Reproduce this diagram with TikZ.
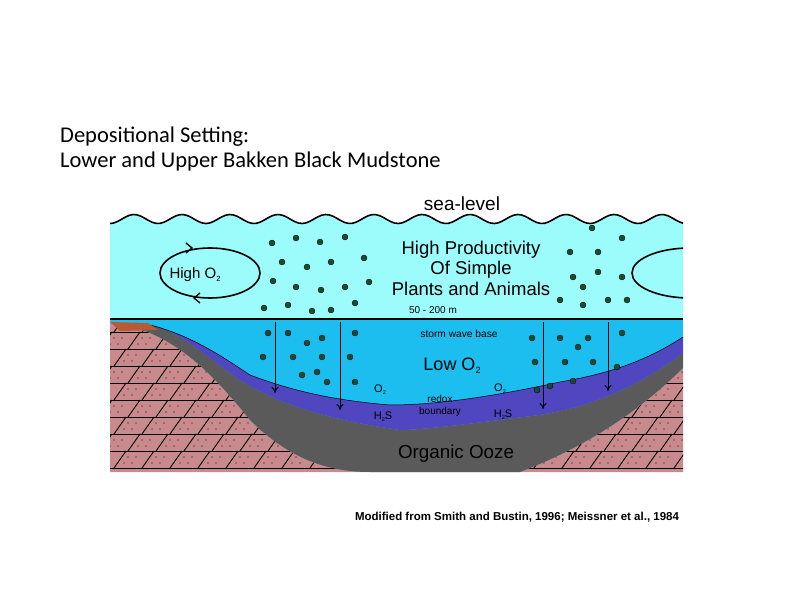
\documentclass[tikz,border=0pt]{standalone}
\usepackage{fontspec}
\usetikzlibrary{arrows.meta}
\setmainfont{Liberation Sans}
\newfontfamily\titlefont{Carlito}
\newcommand\mysub[1]{\raisebox{-0.3ex}{\scalebox{0.5}{#1}}}
\begin{document}
\begin{tikzpicture}[x=1pt,y=-1pt,
  dot/.style={fill=dotgreen,draw=black,line width=0.3pt},
  sink/.style={-{To[length=6pt,width=7pt]},line width=0.8pt},
  lbl/.style={inner sep=0pt,font=\fontsize{#1}{#1}\selectfont},
  lbl/.default=9]
\definecolor{lightsea}{HTML}{9CFCFC}
\definecolor{deepsea}{HTML}{1CBEF0}
\definecolor{purp}{HTML}{5046C0}
\definecolor{ooze}{HTML}{5A5A5A}
\definecolor{rock}{HTML}{C88A8C}
\definecolor{brownlens}{HTML}{B85A34}
\definecolor{dotgreen}{HTML}{1E4A30}
\useasboundingbox (0,0) rectangle (792,612);
% upper water
\fill[lightsea] plot[domain=110:683,samples=150,smooth] (\x,{219+4.5*cos(7.5*(\x-110))}) -- (683,319) -- (110,319) -- cycle;
\draw[line width=1.6pt] plot[domain=110:683,samples=150,smooth] (\x,{219+4.5*cos(7.5*(\x-110))});
% lower water
\fill[deepsea] (110,319) rectangle (683,472);
% rock
\begin{scope}
\path[clip] (110,322) .. controls (170,330) and (210,370) .. (250,420) .. controls (290,460) and (330,472) .. (370,472) -- (520,472) .. controls (590,445) and (640,410) .. (683,368) -- (683,472) -- (110,472) -- cycle;
\fill[rock] (100,300) rectangle (690,480);
\foreach \y [count=\k] in {332,349,...,472}{
  \draw[line width=0.9pt] (100,\y) -- (690,\y);
  \pgfmathsetmacro{\off}{mod(\k,2)*14}
  \foreach \x in {100,128,...,700}{
    \draw[line width=0.9pt] ({\x+\off},\y) -- ({\x+\off+12},\y-17);
    \fill ({\x+\off+10},\y-5) circle (0.7) ({\x+\off+18},\y-5) circle (0.7)
          ({\x+\off+14},\y-11) circle (0.7) ({\x+\off+22},\y-11) circle (0.7);
  }
}
\end{scope}
% ooze
\fill[ooze] (110,322) .. controls (170,330) and (210,370) .. (250,420) .. controls (290,460) and (330,472) .. (370,472) -- (520,472) .. controls (590,445) and (640,410) .. (683,368)
 -- (683,353) .. controls (640,385) and (590,410) .. (523,417) .. controls (460,425) and (420,430) .. (400,430) .. controls (330,420) and (280,405) .. (240,380) .. controls (210,360) and (180,330) .. (150,325) -- cycle;
% purple
\fill[purp] (150,325) .. controls (180,330) and (210,360) .. (240,380) .. controls (280,405) and (330,420) .. (400,430) .. controls (420,430) and (460,425) .. (523,417) .. controls (590,410) and (640,385) .. (683,353)
 -- (683,337) .. controls (640,365) and (600,375) .. (560,382) .. controls (500,395) and (440,405) .. (390,405) .. controls (330,400) and (290,390) .. (250,375) .. controls (220,355) and (190,335) .. (150,325) -- cycle;
\draw[line width=0.5pt] (150,325) .. controls (190,335) and (220,355) .. (250,375) .. controls (290,390) and (330,400) .. (390,405) .. controls (440,405) and (500,395) .. (560,382) .. controls (600,375) and (640,365) .. (683,337);
% brown lens
\fill[brownlens] (110,322) -- (148,323) -- (158,330) -- (120,331) -- cycle;
% surface line
\draw[line width=2pt] (110,319) -- (683,319);
% circulation
\draw[line width=1.6pt] (210,273) ellipse (50 and 25);
\draw[line width=1.4pt] (186,243) -- (192,248) -- (186,253);
\draw[line width=1.4pt] (200,293) -- (194,298) -- (200,303);
\begin{scope}
\clip (600,240) rectangle (683,305);
\draw[line width=1.6pt] (690,273) ellipse (58 and 25);
\end{scope}
% dots
\foreach \p in {(272,243),(296,238),(320,242),(345,237),(282,262),(307,267),(331,262),(364,258),(273,281),(296,287),(321,290),(345,287),(369,282),(264,308),(288,305),(312,311),(331,310),(355,303),
(592,228),(622,238),(570,252),(598,252),(598,272),(573,277),(622,277),(583,287),(560,300),(583,305),(608,300),(627,300),
(268,333),(288,333),(307,343),(322,338),(355,333),(263,357),(293,357),(322,357),(350,357),(302,375),(317,372),(327,382),(355,382),
(532,338),(560,338),(588,338),(578,347),(622,333),(535,362),(565,362),(593,362),(617,367),(537,390),(550,386),(573,381)}
  \path[dot] \p circle (3);
% sinking arrows
\coordinate (a1) at (275,322); \coordinate (b1) at (275,393);
\coordinate (a2) at (340,322); \coordinate (b2) at (340,410);
\coordinate (a3) at (543,322); \coordinate (b3) at (543,409);
\coordinate (a4) at (608,322); \coordinate (b4) at (608,391);
\foreach \i in {1,...,4} \draw[sink] (a\i) -- (b\i);
% texts
\node[lbl=19] (sl) at (462,204) {sea-level};
\node[align=center,inner sep=0pt,font=\fontsize{18.5}{20.5}\selectfont] (hp) at (471,268) {High Productivity\\Of Simple\\Plants and Animals};
\node[lbl=10] (depth) at (433,310) {50 - 200 m};
\node[lbl=10.2] (swb) at (459,334) {storm wave base};
\node[lbl=18] (lowo) at (452,366) {Low O\mysub{2}};
\node[lbl=11] (o2a) at (380,390) {O\mysub{2}};
\node[lbl=11] (o2b) at (500,389) {O\mysub{2}};
\node[align=center,inner sep=0pt,font=\fontsize{10}{11.5}\selectfont] (rb) at (440,406) {redox\\boundary};
\node[lbl=11] (h2a) at (383,417) {H\mysub{2}S};
\node[lbl=11] (h2b) at (503,415) {H\mysub{2}S};
\node[lbl=18.8] (oo) at (456,454) {Organic Ooze};
\node[lbl=15] (higho) at (195,275) {High O\mysub{2}};
\node[anchor=west,inner sep=0pt,align=left,font=\titlefont\fontsize{22.5}{24.5}\selectfont] (title) at (60,149) {Depositional Setting:\\Lower and Upper Bakken Black Mudstone};
\node[inner sep=0pt,font=\bfseries\fontsize{11.5}{12}\selectfont] (cite) at (517,517) {Modified from Smith and Bustin, 1996; Meissner et al., 1984};
\end{tikzpicture}
\end{document}
